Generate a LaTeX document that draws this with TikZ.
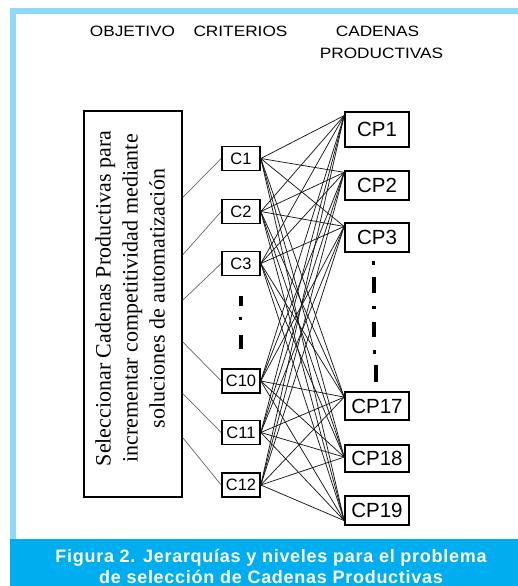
\documentclass[tikz,border=0pt]{standalone}
\usepackage{fontspec}
\setmainfont{Liberation Serif}
\newfontfamily\arialf{Liberation Sans}
\newfontfamily\headf[FakeStretch=1.15]{Liberation Sans}
\newfontfamily\capf[LetterSpace=4]{Liberation Sans}
\usetikzlibrary{calc}
\definecolor{framebl}{HTML}{8FD9F6}
\definecolor{capbl}{HTML}{00AEEF}
\begin{document}
\begin{tikzpicture}[x=1pt,y=-1pt,
  crit/.style={draw, line width=1.6pt, minimum width=38pt, minimum height=24pt, inner sep=0pt, font=\arialf\fontsize{16.5}{17}\selectfont},
  cpbox/.style={draw, line width=1.6pt, minimum width=64pt, minimum height=29pt, inner sep=0pt, font=\arialf\fontsize{20.5}{21}\selectfont},
  head/.style={anchor=base, inner sep=0pt, font=\headf\fontsize{15}{16}\selectfont},
  captext/.style={anchor=base, inner sep=0pt, text=white, font=\capf\bfseries\fontsize{18}{19}\selectfont},
  link/.style={line width=0.75pt, black!90},
  objlink/.style={line width=0.7pt, black!60},
  dotmark/.style={fill=black}
  ]
\useasboundingbox (0,0) rectangle (518,586);
\fill[white] (0,0) rectangle (518,586);
% frame and caption bar
\fill[framebl] (10,8) rectangle (518,14);
\fill[framebl] (10,8) rectangle (16,539);
\fill[capbl] (10,539) rectangle (518,586);
\node[captext] (cap1) at (271,562) {Figura 2. Jerarquías y niveles para el problema};
\node[captext] (cap2) at (271,583) {de selección de Cadenas Productivas};
% headings
\node[head] (h1) at (132.5,37) {OBJETIVO};
\node[head] (h2) at (240.5,37) {CRITERIOS};
\node[head] (h3) at (377.5,37) {CADENAS};
\node[head] (h4) at (381.5,59) {PRODUCTIVAS};
% objective
\node[draw, line width=1.6pt, minimum width=98pt, minimum height=386pt, inner sep=0pt] (obj) at (133,304) {};
\node[rotate=90, inner sep=0pt, align=center, font=\fontsize{22}{27}\selectfont] (objtext) at (130,298.5)
  {Seleccionar Cadenas Productivas para\\ incrementar competitividad mediante\\ soluciones de automatización};
% criteria
\node[crit] (c1) at (241,158.5) {C1};
\node[crit] (c2) at (241,211.5) {C2};
\node[crit] (c3) at (241,263.5) {C3};
\node[crit] (c10) at (241,381) {C10};
\node[crit] (c11) at (241,432.5) {C11};
\node[crit] (c12) at (241,485) {C12};
% productive chains
\node[cpbox, minimum height=35pt] (cp1) at (377,129.5) {CP1};
\node[cpbox] (cp2) at (377,185.5) {CP2};
\node[cpbox] (cp3) at (377,237.5) {CP3};
\node[cpbox, minimum height=28pt] (cp17) at (377,406) {CP17};
\node[cpbox, minimum height=27pt] (cp18) at (377,458.5) {CP18};
\node[cpbox] (cp19) at (377,510.5) {CP19};
% objective links
\foreach \c/\t in {c1/0.225, c2/0.373, c3/0.490, c10/0.598, c11/0.731, c12/0.845}
  \draw[objlink] ($(obj.north east)!\t!(obj.south east)$) -- (\c.west);
% criteria to chains
\foreach \c in {c1,c2,c3,c10,c11,c12}
  \foreach \p/\t in {cp1/0.12, cp2/0.07, cp3/0.14, cp17/0.2, cp18/0.45, cp19/0.83}
    \draw[link] (\c.east) -- ($(\p.north west)!\t!(\p.south west)$);
% ellipsis marks, criteria column
\fill[dotmark] (238.5,296) rectangle (242.5,306);
\fill[dotmark] (239,316.5) rectangle (242,319.5);
\fill[dotmark] (238.5,335) rectangle (242.5,349);
% ellipsis marks, chains column
\fill[dotmark] (371.5,261) rectangle (375,264.5);
\fill[dotmark] (371.5,277) rectangle (375.5,293);
\fill[dotmark] (372,305.5) rectangle (375.5,309);
\fill[dotmark] (372,322) rectangle (376,337);
\fill[dotmark] (372.5,350) rectangle (376,353.5);
\fill[dotmark] (374,365) rectangle (378,382);
\end{tikzpicture}
\end{document}
